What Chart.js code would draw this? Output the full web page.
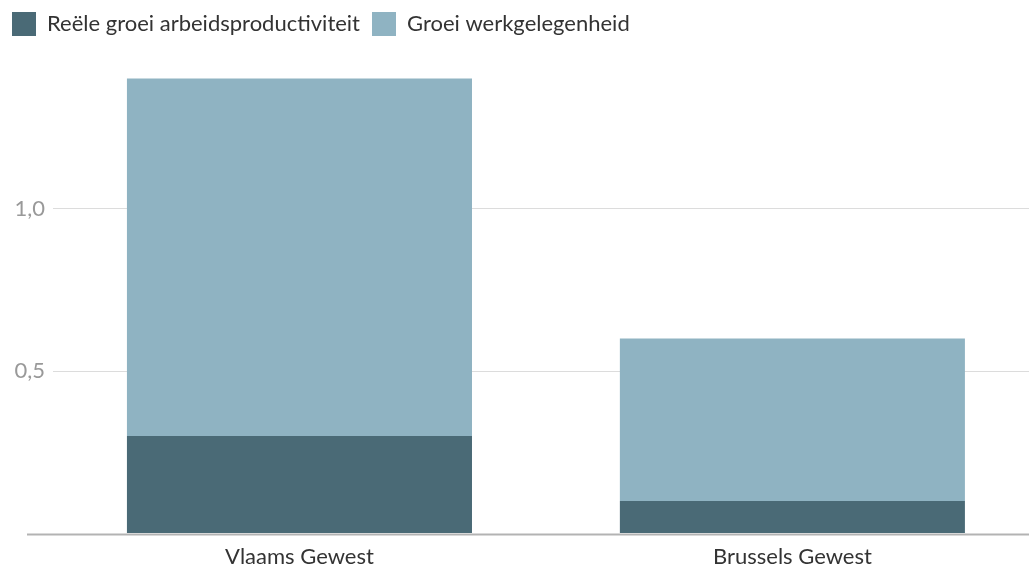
<!DOCTYPE html>
<html>
<head>
<meta charset="utf-8">
<script src="https://cdn.jsdelivr.net/npm/chart.js@4"></script>
<style>
  html, body { margin: 0; padding: 0; background: #fff; }
  #wrap { width: 1029px; height: 566px; }
</style>
</head>
<body>
<div id="wrap"><canvas id="barChart"></canvas></div>
<script>
var categories = ['Vlaams Gewest', 'Brussels Gewest'];
var productiviteit = [0.3, 0.1];
var werkgelegenheid = [1.1, 0.5];
var yTicks = [0, 0.5, 1.0, 1.5];

// baseline at 0, runs a bit further left than the grid lines
var baseline = {
  id: 'baseline',
  afterDatasetsDraw: function (chart) {
    var ctx = chart.ctx;
    var y = Math.round(chart.scales.y.getPixelForValue(0)) + 0.5;
    ctx.save();
    ctx.strokeStyle = '#b3b3b3';
    ctx.lineWidth = 2;
    ctx.beginPath();
    ctx.moveTo(27, y);
    ctx.lineTo(chart.width, y);
    ctx.stroke();
    ctx.restore();
  }
};

var ctx = document.getElementById('barChart');
var myBarChart = new Chart(ctx, {
  type: 'bar',
  data: {
    labels: categories,
    datasets: [
      {
        label: 'Reële groei arbeidsproductiviteit',
        data: productiviteit,
        backgroundColor: '#4a6a76'
      },
      {
        label: 'Groei werkgelegenheid',
        data: werkgelegenheid,
        backgroundColor: '#8fb3c2'
      }
    ]
  },
  options: {
    responsive: true,
    maintainAspectRatio: false,
    animation: false,
    layout: { padding: { left: 0, right: 0, top: 0, bottom: -14 } },
    datasets: {
      bar: { categoryPercentage: 0.7, barPercentage: 1 }
    },
    plugins: {
      tooltip: { enabled: false },
      legend: {
        position: 'top',
        align: 'start',
        labels: {
          boxWidth: 24,
          boxHeight: 24,
          padding: 12,
          color: '#333',
          font: { family: 'Lato', size: 22 }
        }
      }
    },
    scales: {
      x: {
        stacked: true,
        grid: { display: false, drawTicks: false },
        border: { display: false },
        ticks: { color: '#333', font: { family: 'Lato', size: 22, lineHeight: 1.2 }, padding: 10 },
        // the plot runs a little past the right edge in the original
        afterUpdate: function (axis) { axis._valueRange = 1.98; }
      },
      y: {
        stacked: true,
        min: 0,
        max: 1.5,
        afterFit: function (axis) { axis.width = 53; },
        afterBuildTicks: function (axis) {
          axis.ticks = yTicks.map(function (v) { return { value: v }; });
        },
        border: { display: false },
        grid: {
          drawTicks: false,
          color: function (c) {
            if (c.tick.value === 0 || c.tick.value === 1.5) return 'rgba(0,0,0,0)';
            return '#dcdcdc';
          }
        },
        ticks: {
          color: '#999',
          padding: 8,
          font: { family: 'Lato', size: 22 },
          callback: function (v) {
            if (v === 0 || v === 1.5) return '';
            return v.toFixed(1).replace('.', ',');
          }
        }
      }
    }
  },
  plugins: [baseline]
});
</script>
</body>
</html>
